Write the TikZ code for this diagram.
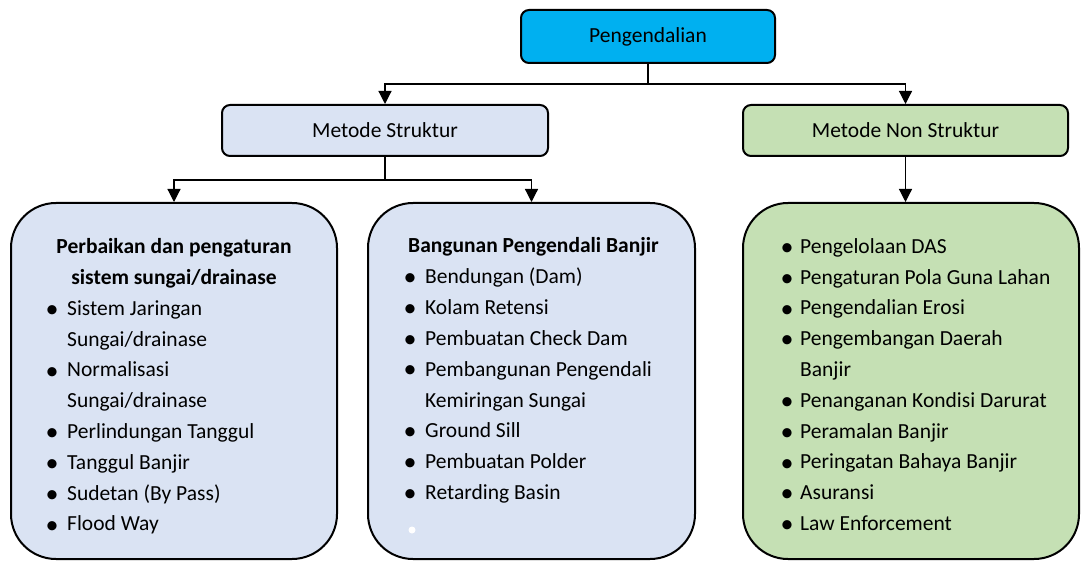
\documentclass[tikz,border=0pt]{standalone}
\usepackage{fontspec}
\setmainfont{Carlito}
\usetikzlibrary{arrows.meta}
\definecolor{topblue}{HTML}{00B0F0}
\definecolor{ltblue}{HTML}{DAE3F3}
\definecolor{ltgreen}{HTML}{C5E0B4}
\newcommand\fs{\fontsize{21.5}{30.8}\selectfont}
\begin{document}
\begin{tikzpicture}[x=1pt,y=-1pt,
  hbox/.style={draw=black,line width=2pt,rounded corners=8pt,inner sep=0pt,font=\fs,text=black},
  bigbox/.style={draw=black,line width=2pt,rounded corners=45pt,inner sep=0pt},
  txt/.style={inner sep=0pt,font=\fs,align=left,text=black},
  bulnode/.style={inner sep=0pt,font=\fontsize{26}{26}\selectfont,text=black},
  conn/.style={draw=black,line width=1.2pt},
  arr/.style={-{Triangle[length=13pt,width=13pt]}}]
\useasboundingbox (0,0) rectangle (1081,561);
% top level
\node[hbox,fill=topblue,minimum width=254pt,minimum height=53pt] (top) at (648,36.5) {Pengendalian};
\node[hbox,fill=ltblue,minimum width=326pt,minimum height=51pt] (ms) at (385,130.5) {Metode Struktur};
\node[hbox,fill=ltgreen,minimum width=325pt,minimum height=51pt] (mns) at (905.5,130.5) {Metode Non Struktur};
% bottom boxes
\node[bigbox,fill=ltblue,minimum width=326pt,minimum height=356pt] (lb) at (174,381) {};
\node[bigbox,fill=ltblue,minimum width=327pt,minimum height=356pt] (mb) at (531.5,381) {};
\node[bigbox,fill=ltgreen,minimum width=336pt,minimum height=356pt] (rb) at (911,381) {};
% connectors
\coordinate (j1) at (648,84);
\coordinate (j2) at (385,180);
\draw[conn] (top.south) -- (j1);
\draw[conn,arr] (j1) -| (ms.north);
\draw[conn,arr] (j1) -| (mns.north);
\draw[conn] (ms.south) -- (j2);
\draw[conn,arr] (j2) -| (lb.north);
\draw[conn,arr] (j2) -| (mb.north);
\draw[conn,arr] (mns.south) -- (mns.south |- rb.north);
% left box text
\node[txt,align=center,anchor=north] (lt) at (174,238) {\rule{0pt}{15pt}\textbf{Perbaikan dan pengaturan}\\\textbf{sistem sungai/drainase}};
\node[txt,anchor=north west] (ll) at (67,300) {\rule{0pt}{15pt}Sistem Jaringan\\Sungai/drainase\\Normalisasi\\Sungai/drainase\\Perlindungan Tanggul\\Tanggul Banjir\\Sudetan (By Pass)\\Flood Way};
\foreach \k in {0,2,4,5,6,7} \node[bulnode] (lbul\k) at (52,{315+30.8*\k-3.5}) {\textbullet};
% middle box text
\node[txt,anchor=north west] (mt) at (408,237) {\rule{0pt}{15pt}\textbf{Bangunan Pengendali Banjir}};
\node[txt,anchor=north west] (ml) at (425,268) {\rule{0pt}{15pt}Bendungan (Dam)\\Kolam Retensi\\Pembuatan Check Dam\\Pembangunan Pengendali\\Kemiringan Sungai\\Ground Sill\\Pembuatan Polder\\Retarding Basin};
\foreach \k in {0,1,2,3,5,6,7} \node[bulnode] (mbul\k) at (410,{283+30.8*\k-3.5}) {\textbullet};
\fill[white] (412,530) circle (3.5pt);
% right box text
\node[txt,anchor=north west] (rl) at (800,238) {\rule{0pt}{15pt}Pengelolaan DAS\\Pengaturan Pola Guna Lahan\\Pengendalian Erosi\\Pengembangan Daerah\\Banjir\\Penanganan Kondisi Darurat\\Peramalan Banjir\\Peringatan Bahaya Banjir\\Asuransi\\Law Enforcement};
\foreach \k in {0,1,2,3,5,6,7,8,9} \node[bulnode] (rbul\k) at (787,{253+30.8*\k-3.5}) {\textbullet};
\end{tikzpicture}
\end{document}
